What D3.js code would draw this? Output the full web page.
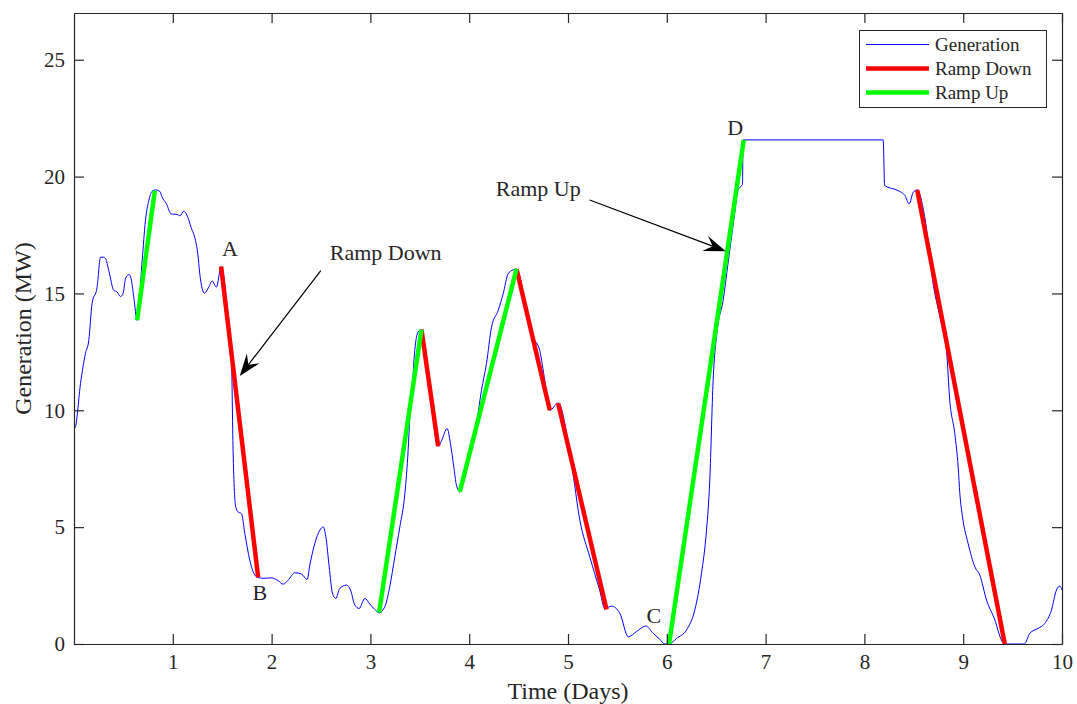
<!DOCTYPE html>
<html>
<head>
  <meta charset="utf-8">
  <title>generation ramps</title>
  <script src="https://cdn.jsdelivr.net/npm/d3@7"></script>
  <style>
    body { margin: 0; background: #fff; }
    text { font-family: "Liberation Serif", "Times New Roman", serif; fill: #262626; }
  </style>
</head>
<body>
  <div id="chart"></div>
  <script type="text/javascript">
    // generation series (days, MW)
    var genX = [0, 0.015, 0.066, 0.116, 0.15, 0.183, 0.234, 0.268, 0.30, 0.319, 0.352, 0.403, 0.437, 0.47, 0.497,
      0.521, 0.555, 0.578, 0.605, 0.639, 0.69, 0.723, 0.757, 0.79, 0.825, 0.868, 0.892, 0.936, 0.983, 1.044,
      1.071, 1.111, 1.152, 1.185, 1.23, 1.253, 1.273, 1.32, 1.364, 1.398, 1.442, 1.489, 1.51, 1.55, 1.58,
      1.594, 1.61, 1.637, 1.661, 1.695, 1.729, 1.779, 1.83, 1.864, 1.914, 1.999, 2.066, 2.117, 2.167, 2.235,
      2.303, 2.36, 2.387, 2.437, 2.488, 2.522, 2.549, 2.583, 2.616, 2.65, 2.69, 2.758, 2.799, 2.842, 2.886,
      2.943, 2.994, 3.044, 3.088, 3.146, 3.196, 3.247, 3.298, 3.349, 3.382, 3.399, 3.426, 3.449, 3.483, 3.517,
      3.55, 3.6, 3.686, 3.72, 3.777, 3.81, 3.844, 3.871, 3.905, 3.955, 4.006, 4.074, 4.124, 4.175, 4.226,
      4.293, 4.344, 4.394, 4.445, 4.479, 4.58, 4.649, 4.714, 4.765, 4.816, 4.9, 5.035, 5.12, 5.22, 5.32,
      5.372, 5.44, 5.525, 5.61, 5.693, 5.787, 5.861, 5.929, 5.98, 6.024, 6.098, 6.2, 6.283, 6.351, 6.402,
      6.435, 6.469, 6.51, 6.57, 6.62, 6.68, 6.72, 6.739, 6.766, 6.772, 8.19, 8.205, 8.34, 8.41, 8.453,
      8.494, 8.534, 8.611, 8.696, 8.78, 8.831, 8.864, 8.915, 8.949, 8.966, 8.993, 9.05, 9.118, 9.168, 9.236,
      9.32, 9.387, 9.42, 9.618, 9.674, 9.758, 9.826, 9.893, 9.944, 9.977, 10.0];
    var genY = [9.2, 9.3, 11.15, 12.43, 13.0, 14.57, 15.27, 16.55, 16.55, 16.5, 15.98, 15.13, 15.06, 14.87, 14.99,
      15.63, 15.81, 15.63, 14.84, 13.85, 16.41, 18.12, 18.97, 19.37, 19.43, 19.37, 19.12, 18.83, 18.4, 18.38,
      18.32, 18.52, 18.26, 17.83, 17.26, 16.7, 15.84, 15.01, 15.27, 15.53, 15.27, 16.15, 15.9, 14.4, 13.2,
      12.3, 8.29, 5.87, 5.65, 5.58, 4.73, 3.59, 2.95, 2.85, 2.81, 2.83, 2.71, 2.56, 2.73, 3.05,
      2.99, 2.76, 3.38, 4.3, 4.87, 5.01, 4.59, 3.3, 2.17, 1.95, 2.38, 2.52, 2.31, 1.67, 1.52,
      1.95, 1.71, 1.48, 1.34, 1.6, 2.45, 3.73, 5.01, 6.44, 8.29, 9.71, 11.14, 12.56, 13.35, 13.45,
      12.85, 11.0, 8.46, 8.7, 9.22, 8.58, 7.58, 6.79, 6.51, 7.15, 8.0, 9.43, 10.85, 12.0, 13.56,
      14.27, 14.99, 15.84, 16.01, 16.05, 14.3, 13.13, 12.56, 11.28, 10.0, 10.31, 7.72, 5.3, 3.73, 2.31,
      1.52, 1.62, 1.31, 0.31, 0.53, 0.77, 0.46, 0.2, 0, 0, 0.24, 0.6, 1.45, 3.02, 4.87,
      7.01, 11.28, 13.4, 14.7, 16.3, 18.2, 19.4, 19.54, 19.66, 21.57, 21.57, 19.62, 19.4, 19.19, 18.83,
      19.33, 19.43, 18.26, 15.41, 13.7, 12.56, 10.43, 9.0, 7.58, 6.44, 5.44, 4.3, 3.3, 2.95, 1.88,
      1.03, 0.17, 0, 0, 0.46, 0.67, 0.88, 1.45, 2.31, 2.48, 2.31];

    // ramp segments [x1, y1, x2, y2]
    var rampDown = [[1.489, 16.15, 1.864, 2.85], [3.517, 13.45, 3.686, 8.46], [4.479, 16.05, 4.816, 10.0],
      [4.9, 10.3, 5.39, 1.48], [8.534, 19.43, 9.421, 0.0]];
    var rampUp = [[0.639, 13.85, 0.818, 19.40], [3.088, 1.34, 3.517, 13.45], [3.905, 6.51, 4.479, 16.05],
      [6.023, 0.0, 6.779, 21.57]];

    var xTicks = [1, 2, 3, 4, 5, 6, 7, 8, 9, 10];
    var yTicks = [0, 5, 10, 15, 20, 25];

    // point labels and arrow notes (data coords)
    var pointLabels = [["A", 1.579, 16.62], ["B", 1.881, 1.88], ["C", 5.868, 0.9], ["D", 6.693, 21.79]];
    var notes = [
      { text: "Ramp Down", tx: 2.589, ty: 16.45, x1: 2.498, y1: 15.98, x2: 1.678, y2: 11.47 },
      { text: "Ramp Up", tx: 4.269, ty: 19.15, x1: 5.219, y1: 19.0, x2: 6.597, y2: 16.81 }
    ];

    var w = 1077;
    var h = 704;
    var pLeft = 74, pRight = 1062, pTop = 13, pBottom = 644;

    var x = d3.scaleLinear().domain([0, 10]).range([pLeft, pRight]);
    var y = d3.scaleLinear().domain([0, 27]).range([pBottom, pTop]);

    var svg = d3.select("#chart")
      .append("svg")
      .attr("width", w)
      .attr("height", h);

    var gen = genX.map(function(d, i) { return [d, genY[i]]; });
    var line = d3.line()
      .curve(d3.curveMonotoneX)
      .x(function(d) { return x(d[0]); })
      .y(function(d) { return y(d[1]); });

    svg.append("path")
      .datum(gen)
      .attr("d", line)
      .attr("fill", "none")
      .attr("stroke", "#0000ff")
      .attr("stroke-width", 1);

    function drawRamps(data, color) {
      svg.selectAll(null)
        .data(data)
        .enter()
        .append("line")
        .attr("x1", function(d) { return x(d[0]); })
        .attr("y1", function(d) { return y(d[1]); })
        .attr("x2", function(d) { return x(d[2]); })
        .attr("y2", function(d) { return y(d[3]); })
        .attr("stroke", color)
        .attr("stroke-width", 4.5);
    }
    drawRamps(rampDown, "#ff0000");
    drawRamps(rampUp, "#00ff00");

    // axes, ticks inside, box on
    var axisColor = "#262626";
    var gx = svg.append("g")
      .attr("transform", "translate(0," + pBottom + ")")
      .call(d3.axisBottom(x).tickValues(xTicks).tickSize(-10).tickPadding(10).tickSizeOuter(0));
    var gy = svg.append("g")
      .attr("transform", "translate(" + pLeft + ",0)")
      .call(d3.axisLeft(y).tickValues(yTicks).tickSize(-10).tickPadding(9).tickSizeOuter(0));
    var gt = svg.append("g")
      .attr("transform", "translate(0," + pTop + ")")
      .call(d3.axisTop(x).tickValues(xTicks).tickSize(-10).tickFormat("").tickSizeOuter(0));
    var gr = svg.append("g")
      .attr("transform", "translate(" + pRight + ",0)")
      .call(d3.axisRight(y).tickValues(yTicks).tickSize(-10).tickFormat("").tickSizeOuter(0));

    [gx, gy, gt, gr].forEach(function(g) {
      g.selectAll("path, line").attr("stroke", axisColor).attr("stroke-width", 1.2);
      g.selectAll("text")
        .attr("fill", axisColor)
        .style("font-size", "21px")
        .style("font-family", "'Liberation Serif', serif");
    });

    svg.append("text")
      .attr("x", (pLeft + pRight) / 2)
      .attr("y", 699)
      .attr("text-anchor", "middle")
      .style("font-size", "24px")
      .text("Time (Days)");

    svg.append("text")
      .attr("transform", "translate(31," + (pTop + pBottom) / 2 + ") rotate(-90)")
      .attr("text-anchor", "middle")
      .style("font-size", "24px")
      .text("Generation (MW)");

    // A B C D
    svg.selectAll(null)
      .data(pointLabels)
      .enter()
      .append("text")
      .attr("x", function(d) { return x(d[1]); })
      .attr("y", function(d) { return y(d[2]); })
      .attr("text-anchor", "middle")
      .style("font-size", "22px")
      .text(function(d) { return d[0]; });

    // arrows with notched heads
    notes.forEach(function(n) {
      var sx = x(n.x1), sy = y(n.y1), ex = x(n.x2), ey = y(n.y2);
      var ang = Math.atan2(ey - sy, ex - sx) * 180 / Math.PI;
      svg.append("line")
        .attr("x1", sx).attr("y1", sy)
        .attr("x2", ex - 12 * Math.cos(ang * Math.PI / 180))
        .attr("y2", ey - 12 * Math.sin(ang * Math.PI / 180))
        .attr("stroke", "#000")
        .attr("stroke-width", 1.2);
      svg.append("path")
        .attr("d", "M0,0 L-22,-8 L-14,0 L-22,8 Z")
        .attr("transform", "translate(" + ex + "," + ey + ") rotate(" + ang + ")")
        .attr("fill", "#000");
      svg.append("text")
        .attr("x", x(n.tx))
        .attr("y", y(n.ty))
        .style("font-size", "22px")
        .text(n.text);
    });

    // legend
    var legend = [["Generation", "#0000ff", 1], ["Ramp Down", "#ff0000", 4.5], ["Ramp Up", "#00ff00", 4.5]];
    var lg = svg.append("g");
    lg.append("rect")
      .attr("x", 859.5).attr("y", 30.5)
      .attr("width", 187).attr("height", 77)
      .attr("fill", "#fff")
      .attr("stroke", axisColor)
      .attr("stroke-width", 1);
    lg.selectAll("line")
      .data(legend)
      .enter()
      .append("line")
      .attr("x1", 866).attr("x2", 929)
      .attr("y1", function(d, i) { return 44.5 + i * 24; })
      .attr("y2", function(d, i) { return 44.5 + i * 24; })
      .attr("stroke", function(d) { return d[1]; })
      .attr("stroke-width", function(d) { return d[2]; });
    lg.selectAll("text")
      .data(legend)
      .enter()
      .append("text")
      .attr("x", 935)
      .attr("y", function(d, i) { return 44.5 + i * 24; })
      .attr("dy", "0.33em")
      .style("font-size", "19px")
      .text(function(d) { return d[0]; });
  </script>
</body>
</html>
